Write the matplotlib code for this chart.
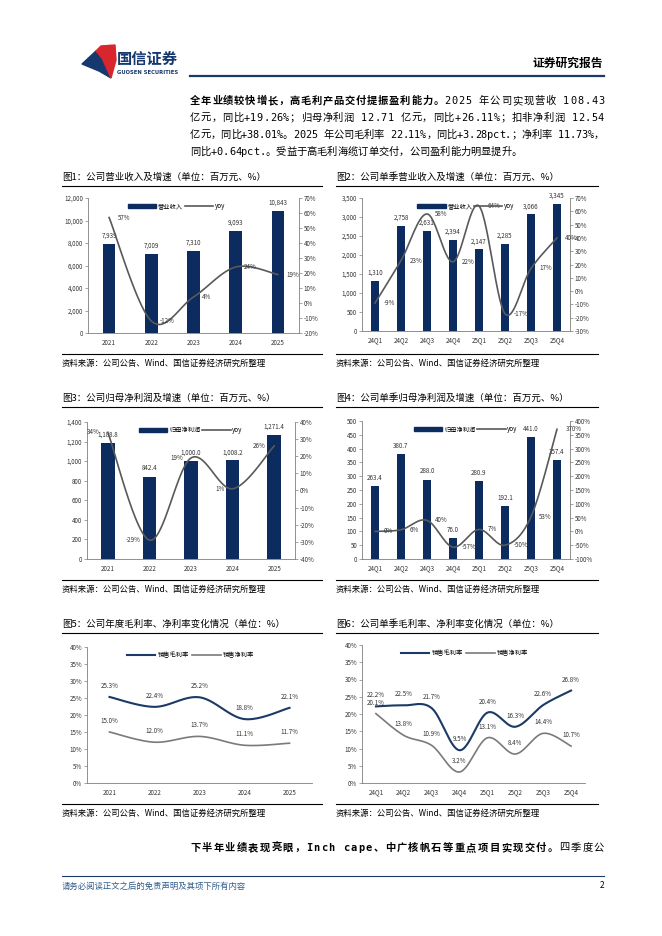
import numpy as np
import matplotlib
matplotlib.use('Agg')
import matplotlib.pyplot as plt
from matplotlib.patches import Patch, Polygon
from matplotlib.lines import Line2D
from matplotlib.ticker import FuncFormatter

plt.rcParams['font.family'] = ['Noto Sans CJK SC', 'DejaVu Sans']
plt.rcParams['axes.unicode_minus'] = False

W, H = 662, 936
NAVY = '#0C2B5E'
GRAY = '#595959'
TXT = '#333333'
BODY = ['DejaVu Sans Mono', 'Noto Sans CJK SC']

# 数据
years = ['2021', '2022', '2023', '2024', '2025']
quarters = ['24Q1', '24Q2', '24Q3', '24Q4', '25Q1', '25Q2', '25Q3', '25Q4']

rev_year = [7939, 7009, 7310, 9093, 10843]
rev_year_yoy = [57, -12, 4, 24, 19]
rev_q = [1310, 2758, 2631, 2394, 2147, 2285, 3066, 3345]
rev_q_yoy = [-9, 23, 58, 22, 64, -17, 17, 40]
np_year = [1188.8, 842.4, 1000.0, 1008.2, 1271.4]
np_year_yoy = [34, -29, 19, 1, 26]
np_q = [263.4, 380.7, 288.0, 76.0, 280.9, 192.1, 441.0, 357.4]
np_q_yoy = [0, 6, 40, -57, 7, -50, 53, 370]
gm_year = [25.3, 22.4, 25.2, 18.8, 22.1]
nm_year = [15.0, 12.0, 13.7, 11.1, 11.7]
gm_q = [22.2, 22.5, 21.7, 9.5, 20.4, 16.3, 22.6, 26.8]
nm_q = [20.1, 13.8, 10.9, 3.2, 13.1, 8.4, 14.4, 10.7]

fig = plt.figure(figsize=(W / 100, H / 100), dpi=100)
renderer = fig.canvas.get_renderer()


def px_axes(l, t, r, b):
    return fig.add_axes([l / W, 1 - b / H, (r - l) / W, (b - t) / H])


def ftext(x, y, s, **kw):
    kw.setdefault('va', 'center')
    return fig.text(x / W, 1 - y / H, s, **kw)


def text_line(x0, y, parts, x1=None, size=7.4):
    # 逐字排版，给了 x1 就两端对齐
    chars = [(ch, b) for s, b in parts for ch in s]
    arts, widths = [], []
    for ch, b in chars:
        t = ftext(x0, y, ch if ch != ' ' else 'x', fontsize=size, family=BODY,
                  fontweight='bold' if b else 'normal')
        widths.append(t.get_window_extent(renderer).width)
        if ch == ' ':
            t.set_text('')
        arts.append(t)
    gap = 0
    if x1 is not None:
        gap = (x1 - x0 - sum(widths)) / (len(chars) - 1)
    x = x0
    for t, w in zip(arts, widths):
        t.set_x(x / W)
        x += w + gap


def hline(x0, x1, y, color='black', lw=0.8):
    fig.add_artist(Line2D([x0 / W, x1 / W], [1 - y / H, 1 - y / H], color=color, lw=lw))


def smooth(xs, ys, n=30):
    # 类似 Excel 平滑线
    x = np.asarray(xs, float)
    y = np.asarray(ys, float)
    px = np.concatenate([[x[0]], x, [x[-1]]])
    py = np.concatenate([[y[0]], y, [y[-1]]])
    t = np.linspace(0, 1, n)[:, None]
    out = []
    for i in range(1, len(px) - 2):
        p0 = np.array([px[i - 1], py[i - 1]])
        p1 = np.array([px[i], py[i]])
        p2 = np.array([px[i + 1], py[i + 1]])
        p3 = np.array([px[i + 2], py[i + 2]])
        c1 = p1 + (p2 - p0) / 6
        c2 = p2 - (p3 - p1) / 6
        seg = ((1 - t) ** 3) * p1 + 3 * ((1 - t) ** 2) * t * c1 + 3 * (1 - t) * t ** 2 * c2 + t ** 3 * p2
        out.append(seg)
    out = np.vstack(out)
    return out[:, 0], out[:, 1]


def style_ax(ax):
    for s in ['top', 'right']:
        ax.spines[s].set_visible(False)
    ax.spines['left'].set_color('#7f7f7f')
    ax.spines['bottom'].set_color('#7f7f7f')
    ax.spines['left'].set_linewidth(0.6)
    ax.spines['bottom'].set_linewidth(0.6)
    ax.tick_params(axis='y', labelsize=4.5, length=2, width=0.5, colors='#7f7f7f', labelcolor=TXT, pad=1.5)
    ax.tick_params(axis='x', labelsize=4.5, length=0, labelcolor=TXT, pad=4)


def bar_line_chart(rect, cats, bars, yoy, name, ylim, ystep, y2lim, y2step, fmt, side, legx, yfmt, bw):
    ax = px_axes(*rect)
    x = np.arange(len(cats))
    ax.bar(x, bars, width=bw, color=NAVY, zorder=2)
    ax.set_xlim(-0.5, len(cats) - 0.5)
    ax.set_ylim(*ylim)
    ax.set_yticks(np.arange(ylim[0], ylim[1] + ystep / 2, ystep))
    ax.yaxis.set_major_formatter(FuncFormatter(yfmt))
    ax.set_xticks(x)
    ax.set_xticklabels(cats)
    style_ax(ax)
    for i, v in enumerate(bars):
        ax.annotate(fmt(v), (i, v), xytext=(0, 3), textcoords='offset points',
                    ha='center', va='bottom', fontsize=4.5, color=TXT)
    ax2 = ax.twinx()
    sx, sy = smooth(x, yoy)
    ax2.plot(sx, sy, color=GRAY, lw=1.2, zorder=3)
    ax2.set_ylim(*y2lim)
    ax2.set_yticks(np.arange(y2lim[0], y2lim[1] + y2step / 2, y2step))
    ax2.yaxis.set_major_formatter(FuncFormatter(lambda v, p: f'{v:.0f}%'))
    for s in ['top', 'left', 'bottom']:
        ax2.spines[s].set_visible(False)
    ax2.spines['right'].set_color('#7f7f7f')
    ax2.spines['right'].set_linewidth(0.6)
    ax2.tick_params(axis='y', labelsize=4.5, length=2, width=0.5, colors='#7f7f7f', labelcolor=TXT, pad=1.5)
    dx = 6 if side == 'right' else -6
    for i, v in enumerate(yoy):
        ax2.annotate(f'{v}%', (i, v), xytext=(dx, 0), textcoords='offset points',
                     ha='left' if side == 'right' else 'right', va='center', fontsize=4.5, color=TXT)
    handles = [Patch(color=NAVY, label=name), Line2D([], [], color=GRAY, lw=1.2, label='yoy')]
    ax2.legend(handles=handles, loc='upper center', bbox_to_anchor=(legx, 1.0), ncol=2, frameon=False,
               fontsize=4.5, handlelength=4.5, handleheight=0.6, columnspacing=0.3, handletextpad=0.3,
               borderpad=0.2)
    return ax


def margin_chart(rect, cats, gm, nm, legx):
    ax = px_axes(*rect)
    x = np.arange(len(cats))
    sx, sy = smooth(x, gm)
    ax.plot(sx, sy, color='#1B3A66', lw=1.5)
    sx, sy = smooth(x, nm)
    ax.plot(sx, sy, color='#7a7a7a', lw=1.2)
    for i in range(len(cats)):
        ax.annotate(f'{gm[i]:.1f}%', (i, gm[i]), xytext=(0, 5), textcoords='offset points',
                    ha='center', va='bottom', fontsize=4.5, color=TXT)
        ax.annotate(f'{nm[i]:.1f}%', (i, nm[i]), xytext=(0, 5), textcoords='offset points',
                    ha='center', va='bottom', fontsize=4.5, color=TXT)
    ax.set_xlim(-0.5, len(cats) - 0.5)
    ax.set_ylim(0, 40)
    ax.set_yticks(np.arange(0, 41, 5))
    ax.yaxis.set_major_formatter(FuncFormatter(lambda v, p: f'{v:.0f}%'))
    ax.set_xticks(x)
    ax.set_xticklabels(cats)
    style_ax(ax)
    handles = [Line2D([], [], color='#1B3A66', lw=1.5, label='销售毛利率'),
               Line2D([], [], color='#7a7a7a', lw=1.2, label='销售净利率')]
    ax.legend(handles=handles, loc='upper center', bbox_to_anchor=(legx, 1.0), ncol=2, frameon=False,
              fontsize=4.5, handlelength=4.5, columnspacing=0.6, handletextpad=0.4, borderpad=0.2)
    return ax


# 页眉
logo = fig.add_axes([0, 0, 1, 1], zorder=-1)
logo.set_xlim(0, W)
logo.set_ylim(H, 0)
logo.axis('off')
logo.add_patch(Polygon([(82, 64), (96, 51), (102, 58), (107, 69), (111, 78), (99, 71)], color='#15386E'))
logo.add_patch(Polygon([(96, 51), (101, 46), (115, 45), (116, 60), (111, 78), (107, 69), (102, 58)],
                       color='#D7262E'))
ftext(117, 59, '国信证券', fontsize=11, color='#15386E', fontweight='bold')
ftext(117, 72, 'GUOSEN SECURITIES', fontsize=3.8, color='#15386E', fontweight='bold', family='DejaVu Sans')
ftext(603, 63, '证券研究报告', fontsize=8.5, fontweight='bold', ha='right', color='black')
hline(190, 604, 76, color='#1B3A66', lw=1.6)

# 正文
text_line(190, 101, [('全年业绩较快增长，高毛利产品交付提振盈利能力。', True),
                     ('2025 年公司实现营收 108.43', False)], x1=604)
text_line(190, 118, [('亿元，同比+19.26%；归母净利润 12.71 亿元，同比+26.11%；扣非净利润 12.54', False)], x1=604)
text_line(190, 135, [('亿元，同比+38.01%。2025 年公司毛利率 22.11%，同比+3.28pct.；净利率 11.73%，', False)],
          x1=604)
text_line(190, 152, [('同比+0.64pct.。受益于高毛利海缆订单交付，公司盈利能力明显提升。', False)])

# 图标题与分隔线
src = '资料来源：公司公告、Wind、国信证券经济研究所整理'
titles = [
    (62, 177, '图1：公司营业收入及增速（单位：百万元、%）'),
    (336, 177, '图2：公司单季营业收入及增速（单位：百万元、%）'),
    (62, 398, '图3：公司归母净利润及增速（单位：百万元、%）'),
    (336, 398, '图4：公司单季归母净利润及增速（单位：百万元、%）'),
    (62, 624, '图5：公司年度毛利率、净利率变化情况（单位：%）'),
    (336, 624, '图6：公司单季毛利率、净利率变化情况（单位：%）'),
]
for x, y, s in titles:
    ftext(x, y, s, fontsize=6.8)
for y_title, y_bot in [(186, 354), (407, 580), (633, 804)]:
    hline(62, 322, y_title)
    hline(336, 598, y_title)
    hline(62, 322, y_bot)
    hline(336, 598, y_bot)
    ftext(62, y_bot + 9, src, fontsize=6)
    ftext(336, y_bot + 9, src, fontsize=6)

comma = lambda v, p: f'{v:,.0f}'
bar_line_chart((88, 198, 299, 333), years, rev_year, rev_year_yoy, '营业收入', (0, 12000), 2000,
               (-20, 70), 10, lambda v: f'{v:,.0f}', 'right', 0.42, comma, 0.3)
bar_line_chart((362, 198, 570, 331), quarters, rev_q, rev_q_yoy, '营业收入', (0, 3500), 500,
               (-30, 70), 10, lambda v: f'{v:,.0f}', 'right', 0.5, comma, 0.32)
bar_line_chart((87, 422, 295, 559), years, np_year, np_year_yoy, '归母净利润', (0, 1400), 200,
               (-40, 40), 10, lambda v: f'{v:,.1f}', 'left', 0.5, comma, 0.33)
bar_line_chart((362, 421, 570, 559), quarters, np_q, np_q_yoy, '归母净利润', (0, 500), 50,
               (-100, 400), 50, lambda v: f'{v:,.1f}', 'right', 0.5, comma, 0.32)
margin_chart((87, 647, 312, 783), years, gm_year, nm_year, 0.46)
margin_chart((362, 645, 585, 783), quarters, gm_q, nm_q, 0.46)

# 底部
text_line(190, 848, [('下半年业绩表现亮眼，Inch cape、中广核帆石等重点项目实现交付。', True),
                     ('四季度公', False)], x1=604)
hline(62, 604, 876, color='#1B3A66', lw=0.8)
ftext(62, 886, '请务必阅读正文之后的免责声明及其项下所有内容', fontsize=6, color='#2E5C8A', style='italic')
ftext(604, 886, '2', fontsize=6, ha='right')

fig.savefig('out.png', dpi=100)
